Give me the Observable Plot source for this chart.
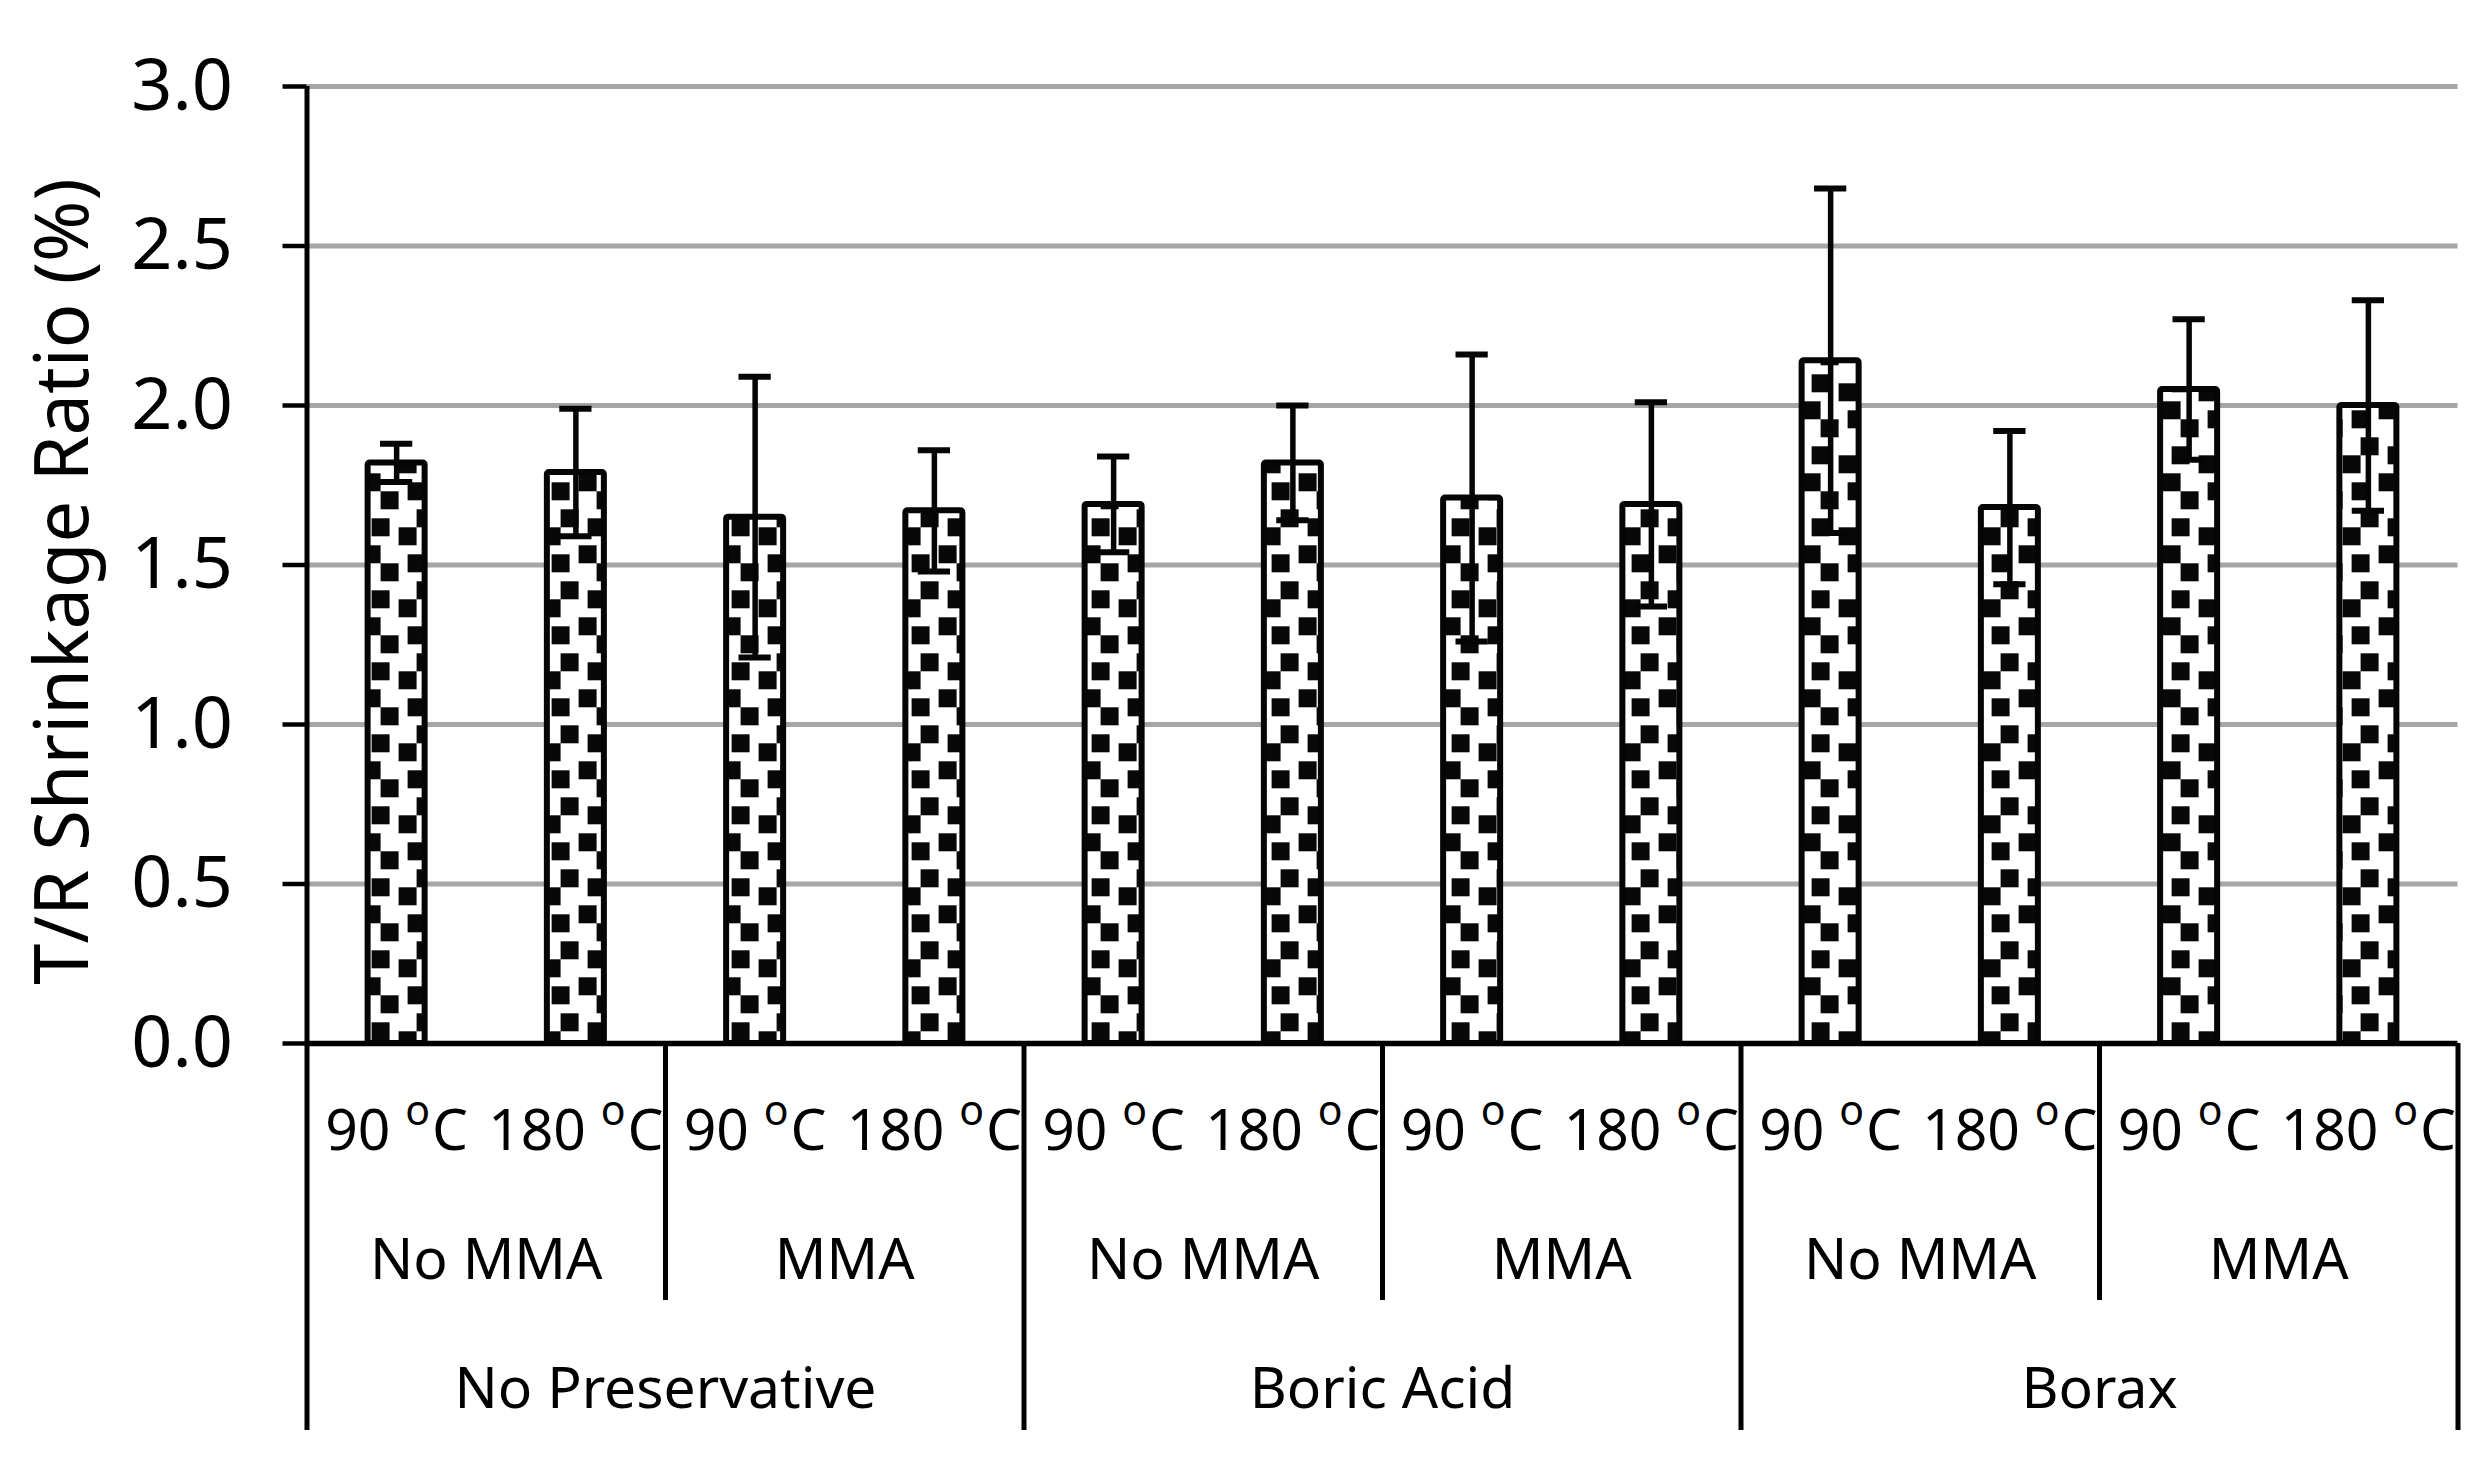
<!DOCTYPE html>
<html>
<head>
<meta charset="utf-8">
<script src="https://cdn.jsdelivr.net/npm/d3@7"></script>
<script src="https://cdn.jsdelivr.net/npm/@observablehq/plot@0.6"></script>
<style>
  html, body { margin: 0; padding: 0; background: #fff; }
</style>
</head>
<body>
<div id="chart"></div>
<script>
// ---- data ----
const preservatives = ["No Preservative", "Boric Acid", "Borax"];
const treatments = ["No MMA", "MMA"];
const temperatures = ["90 ºC", "180 ºC"];
const means = [1.82, 1.79, 1.65, 1.67, 1.69, 1.82, 1.71, 1.69, 2.14, 1.68, 2.05, 2.00];
const sds   = [0.06, 0.20, 0.44, 0.19, 0.15, 0.18, 0.45, 0.32, 0.54, 0.24, 0.22, 0.33];
const yTicks = [0, 0.5, 1.0, 1.5, 2.0, 2.5, 3.0];
const yTitle = "T/R Shrinkage Ratio (%)";

// ---- build tables ----
const bars = [];
preservatives.forEach((p) => treatments.forEach((t) => temperatures.forEach((temp) => {
  const i = bars.length;
  bars.push({i, preservative: p, treatment: t, temp, mean: means[i], sd: sds[i]});
})));
const mmaGroups = preservatives.flatMap((p) => treatments.map((t) => {
  const members = bars.filter((b) => b.preservative === p && b.treatment === t);
  return {label: t, start: members[0].i, end: members[members.length - 1].i + 1};
}));
const presGroups = preservatives.map((p) => {
  const members = bars.filter((b) => b.preservative === p);
  return {label: p, start: members[0].i, end: members[members.length - 1].i + 1};
});
// separators of the multi-level category axis
const DEEP = -1.213, SHALLOW = -0.806; // depth below the zero line, in y units
const separators = [];
for (const g of presGroups) { separators.push({x: g.start, depth: DEEP}); }
separators.push({x: bars.length, depth: DEEP});
for (const g of mmaGroups) {
  if (!separators.some((s) => s.x === g.start)) separators.push({x: g.start, depth: SHALLOW});
}

const BAR_INSET = 0.341;
const CAP_HALF = 0.09;
const INK = "#050505";

const chart = Plot.plot({
  width: 2481,
  height: 1468,
  marginLeft: 306.5,
  marginRight: 23.5,
  marginTop: 86,
  marginBottom: 425,
  x: {type: "linear", domain: [0, bars.length], axis: null},
  y: {domain: [0, 3], axis: null},
  style: {fontFamily: "'Noto Sans', sans-serif", background: "#fff", color: "#000"},
  marks: [
    Plot.ruleY(yTicks.filter((d) => d > 0), {stroke: "#a6a6a6", strokeWidth: 5}),
    Plot.rect(bars, {
      x1: (d) => d.i + BAR_INSET, x2: (d) => d.i + 1 - BAR_INSET,
      y1: 0, y2: "mean",
      fill: "url(#confetti)", stroke: INK, strokeWidth: 6, rx: 2
    }),
    Plot.ruleX(bars, {x: (d) => d.i + 0.5, y1: (d) => d.mean - d.sd, y2: (d) => d.mean + d.sd, stroke: INK, strokeWidth: 5.5}),
    Plot.ruleY(bars, {y: (d) => d.mean + d.sd, x1: (d) => d.i + 0.5 - CAP_HALF, x2: (d) => d.i + 0.5 + CAP_HALF, stroke: INK, strokeWidth: 6}),
    Plot.ruleY(bars, {y: (d) => d.mean - d.sd, x1: (d) => d.i + 0.5 - CAP_HALF, x2: (d) => d.i + 0.5 + CAP_HALF, stroke: INK, strokeWidth: 6}),
    // axis lines
    Plot.ruleY([0], {stroke: "#000", strokeWidth: 5.5}),
    Plot.ruleX([0], {y1: 3, y2: DEEP, stroke: "#000", strokeWidth: 5}),
    Plot.ruleX(separators.filter((s) => s.x !== 0), {x: "x", y1: 0, y2: "depth", stroke: "#000", strokeWidth: 5}),
    Plot.axisY({
      ticks: yTicks, tickSize: 24, tickPadding: 50, strokeWidth: 4.5,
      fontSize: 72, tickFormat: d3.format(".1f"), label: null
    }),
    // category labels
    Plot.text(bars, {x: (d) => d.i + 0.5, text: "temp", frameAnchor: "bottom", lineAnchor: "bottom", dy: 106, fontSize: 57}),
    Plot.text(mmaGroups, {x: (d) => (d.start + d.end) / 2, text: "label", frameAnchor: "bottom", lineAnchor: "bottom", dy: 235, fontSize: 57}),
    Plot.text(presGroups, {x: (d) => (d.start + d.end) / 2, text: "label", frameAnchor: "bottom", lineAnchor: "bottom", dy: 364, fontSize: 57}),
    // y title
    Plot.text([yTitle], {frameAnchor: "left", dx: -219.5, dy: 16.5, rotate: -90, lineAnchor: "bottom", textAnchor: "middle", fontSize: 74})
  ]
});

// pattern definition (Excel-like large confetti)
const svg = d3.select(chart.tagName.toLowerCase() === "svg" ? chart : chart.querySelector("svg"));
const defs = svg.insert("defs", ":first-child");
const pat = defs.append("pattern")
  .attr("id", "confetti").attr("patternUnits", "userSpaceOnUse")
  .attr("width", 72).attr("height", 72).attr("x", 2.6).attr("y", 59.3);
pat.append("rect").attr("width", 72).attr("height", 72).attr("fill", "#fff");
const cells = [[0, 6], [1, 3], [2, 0], [4, 4], [5, 7], [6, 2], [5, -1]];
for (const [cx, cy] of cells) {
  pat.append("rect").attr("x", cx * 9).attr("y", cy * 9).attr("width", 18).attr("height", 18).attr("fill", "#080808");
}

// superscript "o" in the temperature labels
svg.selectAll("text").each(function () {
  const t = this.textContent;
  if (t.includes("º")) {
    const [a, b] = t.split("º");
    const el = d3.select(this);
    el.text(null);
    el.append("tspan").text(a);
    el.append("tspan").attr("dy", "-25").attr("font-size", "41").text("o");
    el.append("tspan").attr("dy", "25").attr("dx", "2").text(b);
  }
});

document.getElementById("chart").appendChild(chart);
</script>
</body>
</html>
